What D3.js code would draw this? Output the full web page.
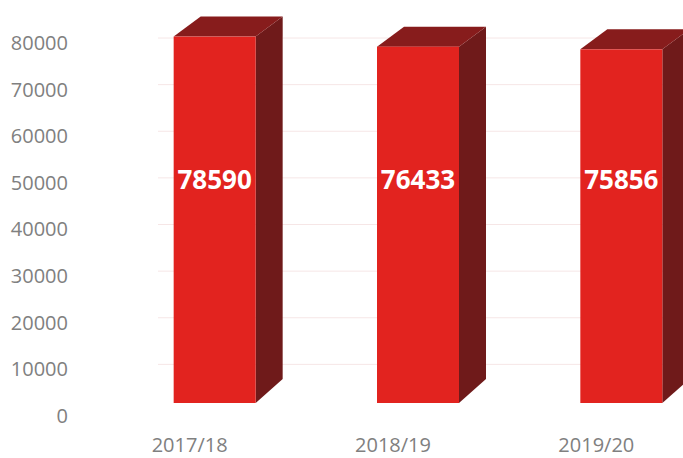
<!DOCTYPE html>
<html lang="en">
<head>
<meta charset="UTF-8">
<title>3D bars</title>
<script src="https://d3js.org/d3.v7.min.js"></script>
<style>
  body { margin: 0; background: #fff; }
  svg { display: block; }
</style>
</head>
<body>
<script>
const years = ['2017/18', '2018/19', '2019/20'];
const values = [78590, 76433, 75856];
const yTicks = [0, 10000, 20000, 30000, 40000, 50000, 60000, 70000, 80000];

const W = 683, H = 458;
const depthX = 27, depthY = -20;   // 3d offset of the back face
const frontLift = 13;              // front face sits above the axis baseline
const barW = 82;

const svg = d3.select('body').append('svg')
    .attr('width', W).attr('height', H);

const y = d3.scaleLinear().domain([0, 80000]).range([416, 43]);
const x = d3.scaleBand().domain(years).range([88, 698]);

// faint gridlines on the back wall
svg.append('g')
    .selectAll('line')
    .data(yTicks.slice(1))
    .join('line')
    .attr('x1', 158).attr('x2', W)
    .attr('y1', d => y(d) - 5).attr('y2', d => y(d) - 5)
    .attr('stroke', '#f6e6e6')
    .attr('stroke-width', 1);

// y axis labels
const yAxis = svg.append('g')
    .attr('transform', 'translate(68,0)')
    .call(d3.axisLeft(y).tickValues(yTicks).tickSize(0).tickPadding(0).tickFormat(d3.format('d')));
yAxis.select('.domain').remove();
yAxis.selectAll('text')
    .attr('font-family', 'Open Sans, sans-serif')
    .attr('font-size', 20)
    .attr('fill', '#808080');

const data = years.map((c, i) => ({ c, v: values[i] }));

const bars = svg.append('g')
    .selectAll('g')
    .data(data)
    .join('g');

const fx0 = d => x(d.c) + x.bandwidth() / 2 + 25 - barW / 2;
const fx1 = d => fx0(d) + barW;
const ftop = d => y(d.v) - frontLift;
const fbot = () => y(0) - frontLift;

// side face
bars.append('path')
    .attr('fill', '#6f1a1a')
    .attr('d', d => `M${fx1(d)},${ftop(d)} L${fx1(d) + depthX},${ftop(d) + depthY} L${fx1(d) + depthX},${fbot() + depthY - 4} L${fx1(d)},${fbot()} Z`);

// top face
bars.append('path')
    .attr('fill', '#871c1c')
    .attr('d', d => `M${fx0(d)},${ftop(d)} L${fx0(d) + depthX},${ftop(d) + depthY} L${fx1(d) + depthX},${ftop(d) + depthY} L${fx1(d)},${ftop(d)} Z`);

// front face
bars.append('rect')
    .attr('x', fx0)
    .attr('y', ftop)
    .attr('width', barW)
    .attr('height', d => fbot() - ftop(d))
    .attr('fill', '#e2231f');

// value labels
bars.append('text')
    .attr('x', d => fx0(d) + barW / 2)
    .attr('y', 189)
    .attr('text-anchor', 'middle')
    .attr('font-family', 'Open Sans, sans-serif')
    .attr('font-weight', 'bold')
    .attr('font-size', 26)
    .attr('fill', '#ffffff')
    .text(d => d.v);

// category labels
svg.append('g')
    .selectAll('text')
    .data(years)
    .join('text')
    .attr('x', d => x(d) + x.bandwidth() / 2)
    .attr('y', 452)
    .attr('text-anchor', 'middle')
    .attr('font-family', 'Open Sans, sans-serif')
    .attr('font-size', 20)
    .attr('fill', '#808080')
    .text(d => d);
</script>
</body>
</html>
